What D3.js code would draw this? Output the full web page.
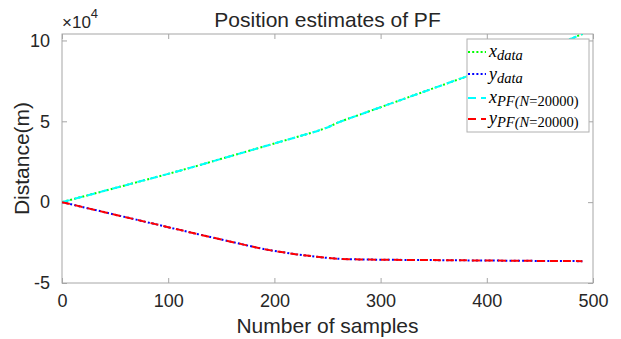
<!DOCTYPE html>
<html>
<head>
<meta charset="utf-8">
<script src="https://cdn.jsdelivr.net/npm/d3@7"></script>
<style>
  body { margin: 0; background: #fff; }
  text { font-family: "Liberation Sans", Arial, sans-serif; fill: #262626; }
  .leg text { font-family: "Liberation Serif", "DejaVu Serif", serif; font-style: italic; fill: #000; }
</style>
</head>
<body>
<script>
// sample index (every 10 samples)
const samples = d3.range(0, 500, 10);

// position values in metres
const xData = [0, 1750, 3500, 5250, 7000, 8750, 10500, 12250, 14000, 15750,
  17500, 19300, 21100, 23000, 24900, 26800, 28700, 30600, 32500, 34400,
  36300, 38200, 40100, 42000, 43900, 46200, 49300, 51700, 54000, 56400,
  58700, 61100, 63400, 65800, 68100, 70500, 72800, 75200, 77500, 79900,
  82200, 84600, 86900, 89300, 91600, 94000, 96300, 98700, 101200, 104000];
const yData = [0, -1550, -3100, -4650, -6200, -7750, -9300, -10800, -12400, -13900,
  -15500, -17000, -18600, -20100, -21600, -23100, -24600, -26100, -27600, -29000,
  -30200, -31200, -32200, -33000, -33800, -34500, -35000, -35300, -35400, -35500,
  -35600, -35650, -35700, -35750, -35800, -35850, -35900, -35950, -36000, -36050,
  -36100, -36150, -36200, -36250, -36300, -36350, -36400, -36420, -36450, -36500];
// particle filter estimates (N = 20000) sit on top of the measured data
const xPf = xData.slice();
const yPf = yData.slice();

const xTicks = [0, 100, 200, 300, 400, 500];
const yTicks = [-5, 0, 5, 10];
const scaleExp = 4;

const width = 621, height = 339;
const margin = { left: 62, right: 28, top: 34, bottom: 56 };
const axisColor = "#a6a6a6";

const svg = d3.select("body").append("svg")
  .attr("width", width).attr("height", height);

const x = d3.scaleLinear().domain([0, 500]).range([margin.left, width - margin.right]);
const y = d3.scaleLinear().domain([-5, 10.4]).range([height - margin.bottom, margin.top]);

const plot = svg.append("g");

// frame
plot.append("rect")
  .attr("x", x(0)).attr("y", y(10.4))
  .attr("width", x(500) - x(0)).attr("height", y(-5) - y(10.4))
  .attr("fill", "none").attr("stroke", axisColor).attr("stroke-width", 1);

// axes with inward ticks on all four sides, plain hyphen for negatives
const fmt = d => String(d);
const bottomAxis = plot.append("g").attr("transform", `translate(0,${y(-5)})`)
  .call(d3.axisBottom(x).tickValues(xTicks).tickSize(-5).tickPadding(11).tickFormat(fmt));
const topAxis = plot.append("g").attr("transform", `translate(0,${y(10.4)})`)
  .call(d3.axisTop(x).tickValues(xTicks).tickSize(-5).tickFormat(""));
const leftAxis = plot.append("g").attr("transform", `translate(${x(0)},0)`)
  .call(d3.axisLeft(y).tickValues(yTicks).tickSize(-5).tickPadding(12).tickFormat(fmt));
const rightAxis = plot.append("g").attr("transform", `translate(${x(500)},0)`)
  .call(d3.axisRight(y).tickValues(yTicks).tickSize(-5).tickFormat(""));

[bottomAxis, topAxis, leftAxis, rightAxis].forEach(a => {
  a.select(".domain").remove();
  a.selectAll(".tick line").attr("stroke", axisColor);
  a.selectAll(".tick text").attr("font-size", 18).attr("fill", "#262626")
    .style("font-family", "'Liberation Sans', Arial, sans-serif");
});

// exponent label
const expo = svg.append("text").attr("x", x(0)).attr("y", 28).attr("font-size", 17);
expo.append("tspan").text("\u00d710");
expo.append("tspan").attr("dy", -10).attr("font-size", 13).text(scaleExp);

// lines
const line = (ys) => d3.line()
  .x((d, i) => x(samples[i]))
  .y((d, i) => y(ys[i] / Math.pow(10, scaleExp)))(samples);

const series = [
  { vals: xData, color: "#00ff00", dash: "2,2.2", label: ["x", "data"] },
  { vals: yData, color: "#0000ff", dash: "2,2.2", label: ["y", "data"] },
  { vals: xPf, color: "#00ffff", dash: "8,5", label: ["x", "PF(N=20000)"] },
  { vals: yPf, color: "#ff0000", dash: "8,5", label: ["y", "PF(N=20000)"] }
];

svg.append("clipPath").attr("id", "clip").append("rect")
  .attr("x", x(0)).attr("y", y(10.4))
  .attr("width", x(500) - x(0)).attr("height", y(-5) - y(10.4));

const lines = svg.append("g").attr("clip-path", "url(#clip)");
series.forEach(s => {
  lines.append("path")
    .attr("d", line(s.vals))
    .attr("fill", "none")
    .attr("stroke", s.color)
    .attr("stroke-width", 2)
    .attr("stroke-dasharray", s.dash);
});

// title and axis labels
svg.append("text").attr("x", (x(0) + x(500)) / 2).attr("y", 27)
  .attr("text-anchor", "middle").attr("font-size", 21).attr("fill", "#000")
  .text("Position estimates of PF");
svg.append("text").attr("x", (x(0) + x(500)) / 2).attr("y", 333)
  .attr("text-anchor", "middle").attr("font-size", 21)
  .text("Number of samples");
svg.append("text")
  .attr("transform", `translate(29,${(y(-5) + y(10.4)) / 2}) rotate(-90)`)
  .attr("text-anchor", "middle").attr("font-size", 21)
  .text("Distance(m)");

// legend
const leg = svg.append("g").attr("class", "leg");
leg.append("rect").attr("x", 467).attr("y", 39).attr("width", 122).attr("height", 93)
  .attr("fill", "#fff").attr("stroke", "#b0b0b0").attr("stroke-width", 1);
const rowY = [52, 74, 98, 119];
const baseY = [57, 80, 103, 124];
series.forEach((s, i) => {
  leg.append("line").attr("x1", 468).attr("x2", 486)
    .attr("y1", rowY[i]).attr("y2", rowY[i])
    .attr("stroke", s.color).attr("stroke-width", 2).attr("stroke-dasharray", s.dash);
  const t = leg.append("text").attr("x", 489).attr("y", baseY[i]).attr("font-size", 18);
  t.append("tspan").text(s.label[0]);
  if (s.label[1] === "data") {
    t.append("tspan").attr("dy", 3).attr("font-size", 14.5).text("data");
  } else {
    t.append("tspan").attr("dy", 3).attr("font-size", 14.5).text("PF(N");
    t.append("tspan").attr("font-size", 14.5).style("font-style", "normal").text("=20000)");
  }
});
</script>
</body>
</html>
